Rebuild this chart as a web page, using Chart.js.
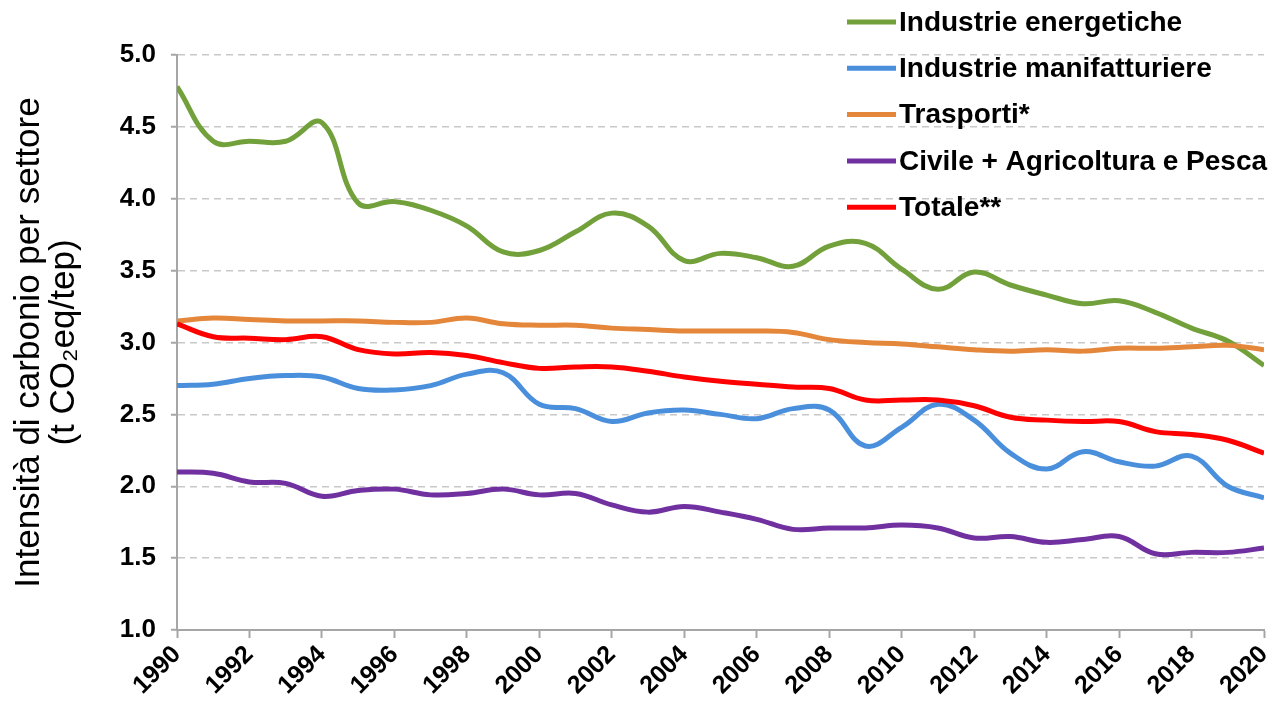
<!DOCTYPE html>
<html>
<head>
<meta charset="utf-8">
<script src="https://cdn.jsdelivr.net/npm/chart.js@4/dist/chart.umd.min.js"></script>
<style>
  html, body { margin: 0; padding: 0; background: #fff; }
  #wrap { width: 1279px; height: 714px; }
</style>
</head>
<body>
<div id="wrap"><canvas id="chart" width="1279" height="714"></canvas></div>
<script>
// intensità di carbonio per settore, 1990-2020
const years = [1990, 1991, 1992, 1993, 1994, 1995, 1996, 1997, 1998, 1999,
  2000, 2001, 2002, 2003, 2004, 2005, 2006, 2007, 2008, 2009,
  2010, 2011, 2012, 2013, 2014, 2015, 2016, 2017, 2018, 2019, 2020];

const energetiche = [4.78, 4.40, 4.40, 4.40, 4.53, 3.97, 3.98, 3.92, 3.81, 3.63,
  3.64, 3.77, 3.90, 3.81, 3.57, 3.62, 3.59, 3.53, 3.67, 3.69,
  3.51, 3.37, 3.49, 3.40, 3.33, 3.27, 3.29, 3.21, 3.10, 3.01, 2.84];

const manifatturiere = [2.70, 2.71, 2.75, 2.77, 2.76, 2.68, 2.67, 2.70, 2.78, 2.79,
  2.57, 2.54, 2.45, 2.51, 2.53, 2.50, 2.47, 2.54, 2.53, 2.28,
  2.41, 2.57, 2.46, 2.23, 2.12, 2.24, 2.17, 2.14, 2.21, 2.00, 1.92];

const trasporti = [3.15, 3.17, 3.16, 3.15, 3.15, 3.15, 3.14, 3.14, 3.17, 3.13,
  3.12, 3.12, 3.10, 3.09, 3.08, 3.08, 3.08, 3.07, 3.02, 3.00,
  2.99, 2.97, 2.95, 2.94, 2.95, 2.94, 2.96, 2.96, 2.97, 2.98, 2.95];

const civile = [2.10, 2.09, 2.03, 2.02, 1.93, 1.97, 1.98, 1.94, 1.95, 1.98,
  1.94, 1.95, 1.87, 1.82, 1.86, 1.82, 1.77, 1.70, 1.71, 1.71,
  1.73, 1.71, 1.64, 1.65, 1.61, 1.63, 1.65, 1.53, 1.54, 1.54, 1.57];

const totale = [3.13, 3.04, 3.03, 3.02, 3.04, 2.95, 2.92, 2.93, 2.91, 2.86,
  2.82, 2.83, 2.83, 2.80, 2.76, 2.73, 2.71, 2.69, 2.68, 2.60,
  2.60, 2.60, 2.56, 2.48, 2.46, 2.45, 2.45, 2.38, 2.36, 2.32, 2.23];

const seriesNames = ["Industrie energetiche", "Industrie manifatturiere", "Trasporti*",
  "Civile + Agricoltura e Pesca", "Totale**"];
const seriesColors = ["#72a03a", "#4a8fdc", "#e4873a", "#7030a0", "#ff0000"];
const yTitle = ["Intensità di carbonio per settore", "(t CO\u2082eq/tep)"];

const FONT = "'Liberation Sans', Arial, sans-serif";

function pts(vals) {
  return years.map((y, i) => ({ x: y, y: vals[i] }));
}

const allSeries = [energetiche, manifatturiere, trasporti, civile, totale];

// legenda disegnata a mano, in alto a destra sopra l'area del grafico
const legendPlugin = {
  id: "sideLegend",
  afterDraw(chart) {
    const ctx = chart.ctx;
    ctx.save();
    ctx.font = "bold 28px " + FONT;
    ctx.textBaseline = "middle";
    ctx.fillStyle = "#000";
    seriesNames.forEach((name, i) => {
      const y = 22 + i * 46.3;
      ctx.strokeStyle = seriesColors[i];
      ctx.lineWidth = 5;
      ctx.beginPath();
      ctx.moveTo(847, y);
      ctx.lineTo(896, y);
      ctx.stroke();
      ctx.fillText(name, 899, y + 1);
    });
    ctx.restore();
  }
};

new Chart(document.getElementById("chart"), {
  type: "line",
  data: {
    datasets: allSeries.map((vals, i) => ({
      label: seriesNames[i],
      data: pts(vals),
      borderColor: seriesColors[i],
      backgroundColor: seriesColors[i],
      borderWidth: 5,
      pointRadius: 0,
      tension: 0.4,
      fill: false
    })).reverse()
  },
  options: {
    responsive: false,
    animation: false,
    layout: { padding: { top: 55, right: 15, left: 0, bottom: 0 } },
    plugins: {
      legend: { display: false },
      tooltip: { enabled: false }
    },
    scales: {
      x: {
        type: "linear",
        min: 1990,
        max: 2020,
        afterFit: s => { s.height = 84; s.paddingRight = 0; s.paddingLeft = 0; },
        border: { display: true, color: "#a6a6a6", width: 2 },
        grid: {
          drawOnChartArea: false,
          drawTicks: true,
          tickLength: 8,
          tickColor: "#a6a6a6",
          tickWidth: 2
        },
        ticks: {
          stepSize: 2,
          autoSkip: false,
          maxRotation: 45,
          minRotation: 45,
          padding: 2,
          color: "#000",
          font: { family: FONT, size: 25, weight: "bold" },
          callback: v => String(v)
        }
      },
      y: {
        min: 1.0,
        max: 5.0,
        afterFit: s => { s.width = 177; },
        border: { display: true, color: "#a6a6a6", width: 2, dash: [7, 5] },
        grid: {
          color: "#c8c8c8",
          lineWidth: 1.5,
          drawTicks: true,
          tickLength: 6,
          tickColor: "#a6a6a6",
          tickWidth: 2,
          tickBorderDash: []
        },
        ticks: {
          stepSize: 0.5,
          padding: 15,
          color: "#000",
          font: { family: FONT, size: 26, weight: "bold" },
          callback: v => v.toFixed(1)
        },
        title: {
          display: true,
          text: yTitle,
          color: "#000",
          padding: { top: 12, bottom: 0 },
          font: { family: FONT, size: 35, lineHeight: 1.0 }
        }
      }
    }
  },
  plugins: [legendPlugin]
});
</script>
</body>
</html>
